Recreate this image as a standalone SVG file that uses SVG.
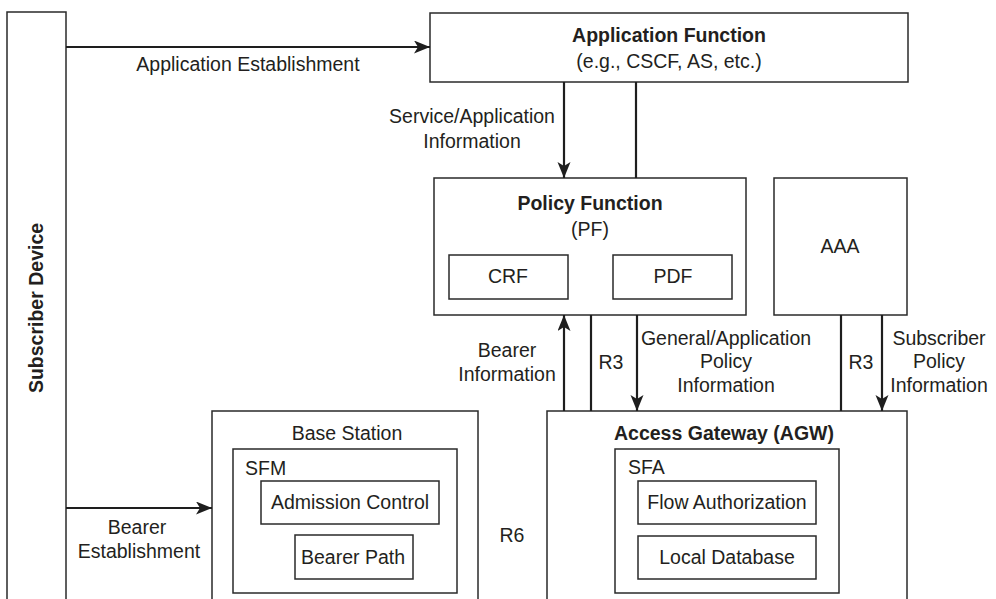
<svg xmlns="http://www.w3.org/2000/svg" width="996" height="599" viewBox="0 0 996 599">
<defs>
<style>
.box{fill:#fff;stroke:#2a2a2a;stroke-width:1.5}
.t{font-family:"Liberation Sans",Arial,Helvetica,sans-serif;font-size:19.5px;fill:#231f20;text-anchor:middle}
.b{font-weight:bold}
.s{text-anchor:start}
.c{stroke:#1e1e1e;stroke-width:2.2;fill:none}
</style>
<marker id="ah" markerUnits="userSpaceOnUse" markerWidth="17" markerHeight="14" refX="16" refY="6.5" orient="auto">
<path d="M0,0 L16,6.5 L0,13 L4,6.5 z" fill="#1e1e1e"/>
</marker>
</defs>
<rect width="996" height="599" fill="#fff"/>

<g id="subscriber-device">
<rect class="box" x="7" y="12" width="59" height="600"/>
<text class="t b" transform="translate(43,308) rotate(-90)">Subscriber Device</text>
</g>

<g id="application-function">
<rect class="box" x="430" y="13" width="478" height="69"/>
<text class="t b" x="669" y="42">Application Function</text>
<text class="t" x="669" y="68">(e.g., CSCF, AS, etc.)</text>
</g>

<g id="policy-function">
<rect class="box" x="434" y="178" width="312" height="137"/>
<text class="t b" x="590" y="210">Policy Function</text>
<text class="t" x="590" y="236">(PF)</text>
</g>
<g id="crf">
<rect class="box" x="449" y="255" width="119" height="44"/>
<text class="t" x="508" y="283">CRF</text>
</g>
<g id="pdf">
<rect class="box" x="613" y="255" width="119" height="44"/>
<text class="t" x="673" y="283">PDF</text>
</g>

<g id="aaa">
<rect class="box" x="774" y="178" width="133" height="137"/>
<text class="t" x="840" y="253">AAA</text>
</g>

<g id="base-station">
<rect class="box" x="212" y="411" width="266" height="200"/>
<text class="t" x="347" y="440">Base Station</text>
</g>
<g id="sfm">
<rect class="box" x="233" y="449" width="224" height="144"/>
<text class="t s" x="245" y="475">SFM</text>
</g>
<g id="admission-control">
<rect class="box" x="261" y="481" width="178" height="43"/>
<text class="t" x="350" y="509">Admission Control</text>
</g>
<g id="bearer-path">
<rect class="box" x="295" y="535" width="118" height="44"/>
<text class="t" x="353" y="564">Bearer Path</text>
</g>

<g id="access-gateway">
<rect class="box" x="547" y="411" width="360" height="200"/>
<text class="t b" x="724" y="440">Access Gateway (AGW)</text>
</g>
<g id="sfa">
<rect class="box" x="615" y="449" width="224" height="144"/>
<text class="t s" x="628" y="474">SFA</text>
</g>
<g id="flow-authorization">
<rect class="box" x="638" y="481" width="178" height="43"/>
<text class="t" x="727" y="509">Flow Authorization</text>
</g>
<g id="local-database">
<rect class="box" x="638" y="536" width="178" height="43"/>
<text class="t" x="727" y="564">Local Database</text>
</g>

<g id="connectors">
<path class="c" d="M66,47 H430" marker-end="url(#ah)"/>
<path class="c" d="M564,82 V178" marker-end="url(#ah)"/>
<path class="c" d="M636,82 V178"/>
<path class="c" d="M564,411 V315" marker-end="url(#ah)"/>
<path class="c" d="M591,315 V411"/>
<path class="c" d="M637,315 V411" marker-end="url(#ah)"/>
<path class="c" d="M841,315 V411"/>
<path class="c" d="M882,315 V411" marker-end="url(#ah)"/>
<path class="c" d="M66,508 H212" marker-end="url(#ah)"/>
<text class="t" x="248" y="71">Application Establishment</text>
<text class="t" x="472" y="123">Service/Application</text>
<text class="t" x="472" y="148">Information</text>
<text class="t" x="507" y="357">Bearer</text>
<text class="t" x="507" y="381">Information</text>
<text class="t" x="611" y="369">R3</text>
<text class="t" x="726" y="345">General/Application</text>
<text class="t" x="726" y="368">Policy</text>
<text class="t" x="726" y="392">Information</text>
<text class="t" x="861" y="369">R3</text>
<text class="t" x="939" y="345">Subscriber</text>
<text class="t" x="939" y="368">Policy</text>
<text class="t" x="939" y="392">Information</text>
<text class="t" x="137" y="534">Bearer</text>
<text class="t" x="139" y="558">Establishment</text>
<text class="t" x="512" y="542">R6</text>
</g>
</svg>
